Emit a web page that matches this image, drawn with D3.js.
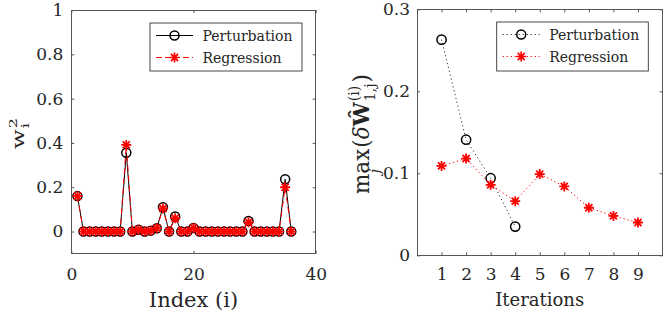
<!DOCTYPE html>
<html>
<head>
<meta charset="utf-8">
<script src="https://cdn.jsdelivr.net/npm/d3@7"></script>
<style>
  body { margin: 0; background: #fff; }
  svg { display: block; }
  text { font-family: "DejaVu Serif", serif; fill: #262626; }
</style>
</head>
<body>
<svg width="664" height="318"></svg>
<script>
// ---- data ----
const indexVals = [1,2,3,4,5,6,7,8,9,10,11,12,13,14,15,16,17,18,19,20,21,22,23,24,25,26,27,28,29,30,31,32,33,34,35,36];
const wPert = [0.160,0,0,0,0,0,0,0,0.356,0,0.008,0,0.004,0.015,0.110,0,0.068,0,0,0.016,0,0,0,0,0,0,0,0,0.048,0,0,0,0,0,0.236,0];
const wReg  = [0.160,0,0,0,0,0,0,0,0.391,0,0.008,0,0.004,0.015,0.104,0,0.060,0,0,0.016,0,0,0,0,0,0,0,0,0.042,0,0,0,0,0,0.200,0];

const iters = [1,2,3,4,5,6,7,8,9];
const dPert = [0.263,0.141,0.094,0.035];
const dReg  = [0.109,0.118,0.086,0.066,0.099,0.084,0.058,0.048,0.040];

const leftXTicks = [0,20,40];
const leftYTicks = [0,0.2,0.4,0.6,0.8,1];
const rightXTicks = [1,2,3,4,5,6,7,8,9];
const rightYTicks = [0,0.1,0.2,0.3];
const seriesNames = ["Perturbation","Regression"];

const svg = d3.select("svg");

// matlab style '*' marker (plus + cross)
const asterisk = {
  draw(ctx, size) {
    const r = Math.sqrt(size) / 2, d = r * Math.SQRT1_2;
    ctx.moveTo(-r, 0); ctx.lineTo(r, 0);
    ctx.moveTo(0, -r); ctx.lineTo(0, r);
    ctx.moveTo(-d, -d); ctx.lineTo(d, d);
    ctx.moveTo(-d, d); ctx.lineTo(d, -d);
  }
};
const starPath = d3.symbol().type(asterisk).size(100)();

function frame(x, y, xt, yt, xPad, yPad, fmtY) {
  const [x0, x1] = x.range(), [y1, y0] = y.range();
  const g = svg.append("g");
  const ax = [
    g.append("g").attr("transform", `translate(0,${y1})`)
      .call(d3.axisBottom(x).tickValues(xt).tickSizeInner(-3).tickSizeOuter(0).tickPadding(xPad)),
    g.append("g").attr("transform", `translate(${x0},0)`)
      .call(d3.axisLeft(y).tickValues(yt).tickSizeInner(-3).tickSizeOuter(0).tickPadding(yPad).tickFormat(fmtY)),
    g.append("g").attr("transform", `translate(0,${y0})`)
      .call(d3.axisTop(x).tickValues(xt).tickSizeInner(-3).tickSizeOuter(0).tickFormat(() => "")),
    g.append("g").attr("transform", `translate(${x1},0)`)
      .call(d3.axisRight(y).tickValues(yt).tickSizeInner(-3).tickSizeOuter(0).tickFormat(() => ""))
  ];
  ax.forEach(a => {
    a.select(".domain").remove();
    a.selectAll("line").attr("stroke", "#555");
    a.selectAll("text").attr("fill", "#262626").style("font-size", "17px")
      .style("font-family", '"DejaVu Serif", serif');
  });
  g.append("rect").attr("x", x0).attr("y", y0).attr("width", x1 - x0).attr("height", y1 - y0)
    .attr("fill", "none").attr("stroke", "#555").attr("stroke-width", 1)
    .attr("shape-rendering", "crispEdges");
  return g;
}

function legend(x, y, w, h, styles) {
  const g = svg.append("g").attr("transform", `translate(${x},${y})`);
  g.append("rect").attr("width", w).attr("height", h).attr("fill", "#fff")
    .attr("stroke", "#333").attr("stroke-width", 0.9);
  seriesNames.forEach((name, i) => {
    const cy = 12.5 + i * 22;
    const s = styles[i];
    g.append("line").attr("x1", 6).attr("x2", 43).attr("y1", cy).attr("y2", cy)
      .attr("stroke", s.color).attr("stroke-width", 1).attr("stroke-dasharray", s.dash);
    if (s.marker === "o")
      g.append("circle").attr("cx", 24.5).attr("cy", cy).attr("r", 4.5)
        .attr("fill", "none").attr("stroke", "#000").attr("stroke-width", 1.5);
    else
      g.append("path").attr("d", starPath).attr("transform", `translate(24.5,${cy})`)
        .attr("stroke", "#f00").attr("stroke-width", 1.7).attr("fill", "none");
    g.append("text").attr("x", 52.5).attr("y", cy).attr("dy", "0.36em")
      .style("font-size", "14px").attr("fill", "#000").text(name);
  });
}

function fitRotated(g, X0, X1, Y0, Y1) {
  const b = g.node().getBBox();
  const ky = (X1 - X0) / b.height, kx = (Y1 - Y0) / b.width;
  g.attr("transform", `matrix(0,${-kx},${ky},0,${X0 - ky * b.y},${Y1 + kx * b.x})`);
}

// ---------- left panel ----------
const xL = d3.scaleLinear().domain([0, 40]).range([71.3, 315.7]);
const yL = d3.scaleLinear().domain([-0.1, 1]).range([253.7, 10]);
frame(xL, yL, leftXTicks, leftYTicks, 14, 8, d3.format("~g"));

const lineL = (vals) => d3.line().x((d, i) => xL(indexVals[i])).y(d => yL(d))(vals);
svg.append("path").attr("d", lineL(wPert)).attr("fill", "none")
  .attr("stroke", "#000").attr("stroke-width", 1);
svg.append("g").selectAll("circle").data(wPert).join("circle")
  .attr("cx", (d, i) => xL(indexVals[i])).attr("cy", d => yL(d)).attr("r", 4.5)
  .attr("fill", "none").attr("stroke", "#000").attr("stroke-width", 1.5);
svg.append("path").attr("d", lineL(wReg)).attr("fill", "none")
  .attr("stroke", "#f00").attr("stroke-width", 1).attr("stroke-dasharray", "6,4");
svg.append("g").selectAll("path").data(wReg).join("path")
  .attr("d", starPath)
  .attr("transform", (d, i) => `translate(${xL(indexVals[i])},${yL(d)})`)
  .attr("fill", "none").attr("stroke", "#f00").attr("stroke-width", 1.8);

legend(150, 23, 152, 48, [
  { color: "#000", dash: null, marker: "o" },
  { color: "#f00", dash: "6,3", marker: "*" }
]);

svg.append("text").attr("x", 193.5).attr("y", 307).attr("text-anchor", "middle")
  .style("font-size", "21px").text("Index (i)");

const ylabL = svg.append("g");
ylabL.append("text").attr("x", 0).attr("y", 0).style("font-size", "20px").text("w");
ylabL.append("text").attr("x", 18).attr("y", -8).style("font-size", "14px").text("2");
ylabL.append("text").attr("x", 18).attr("y", 6).style("font-size", "14px").text("i");
fitRotated(ylabL, 6, 31, 118, 149);

// ---------- right panel ----------
const xR = d3.scaleLinear().domain([0, 10]).range([417, 662.5]);
const yR = d3.scaleLinear().domain([0, 0.3]).range([255.3, 9.3]);
frame(xR, yR, rightXTicks, rightYTicks, 12.5, 7, d3.format("~g"));

const lineR = (vals) => d3.line().x((d, i) => xR(iters[i])).y(d => yR(d))(vals);
svg.append("path").attr("d", lineR(dPert)).attr("fill", "none")
  .attr("stroke", "#333").attr("stroke-width", 1).attr("stroke-dasharray", "1.2,2.8");
svg.append("g").selectAll("circle").data(dPert).join("circle")
  .attr("cx", (d, i) => xR(iters[i])).attr("cy", d => yR(d)).attr("r", 4.6)
  .attr("fill", "none").attr("stroke", "#000").attr("stroke-width", 1.5);
svg.append("path").attr("d", lineR(dReg)).attr("fill", "none")
  .attr("stroke", "#f00").attr("stroke-width", 1).attr("stroke-dasharray", "1.2,2.8");
svg.append("g").selectAll("path").data(dReg).join("path")
  .attr("d", starPath)
  .attr("transform", (d, i) => `translate(${xR(iters[i])},${yR(d)})`)
  .attr("fill", "none").attr("stroke", "#f00").attr("stroke-width", 1.8);

legend(496.7, 22, 151.6, 49, [
  { color: "#333", dash: "1.2,2.8", marker: "o" },
  { color: "#f00", dash: "1.2,2.8", marker: "*" }
]);

svg.append("text").attr("x", 539.7).attr("y", 306).attr("text-anchor", "middle")
  .style("font-size", "18px").text("Iterations");

// y label: max_j( delta W-hat ^(i) _(1,j) )
const ylabR = svg.append("g");
let cx = 0;
const put = (t, x, y, size, opts = {}) => {
  const el = ylabR.append("text").attr("x", x).attr("y", y).style("font-size", size + "px").text(t);
  if (opts.italic) el.style("font-style", "italic");
  if (opts.bold) el.style("font-weight", "bold");
  return el.node().getComputedTextLength();
};
const wMax = put("max", 0, 0, 20);
put("j", wMax / 2 - 2, 10, 14, { italic: true });
cx = wMax + 1;
cx += put("(", cx, 0, 20);
cx += put("δ", cx, 0, 20, { italic: true });
cx += put("Ŵ", cx, 0, 20, { bold: true }) + 1;
const wSup = put("(i)", cx, -9, 13);
const wSub = put("1,j", cx, 6, 13);
cx += Math.max(wSup, wSub) + 1;
put(")", cx, 0, 20);
fitRotated(ylabR, 346, 383, 74, 194);
</script>
</body>
</html>
